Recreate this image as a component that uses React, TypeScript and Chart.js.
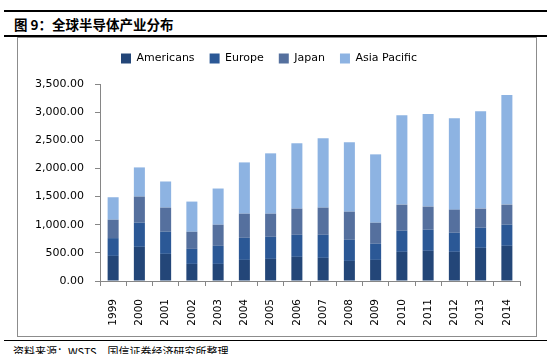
import React, { useEffect, useRef } from "react";
import { Chart, registerables } from "chart.js";

Chart.register(...registerables);

const categories = ["1999","2000","2001","2002","2003","2004","2005","2006","2007","2008","2009","2010","2011","2012","2013","2014"];
const americans = [446, 607, 482, 304, 304, 375, 393, 429, 411, 357, 375, 518, 536, 518, 589, 625];
const europe = [316, 429, 393, 267, 321, 393, 393, 392, 410, 375, 286, 375, 375, 339, 358, 375];
const japan = [327, 464, 429, 304, 375, 428, 410, 465, 483, 500, 375, 464, 411, 411, 339, 357];
const asiaPacific = [399, 518, 464, 536, 643, 911, 1072, 1161, 1232, 1233, 1214, 1590, 1643, 1625, 1732, 1947];
const seriesNames = ["Americans", "Europe", "Japan", "Asia Pacific"];
const seriesColors = ["#234678", "#2B5896", "#55709E", "#8DB3E2"];
const yMax = 3500;
const yStep = 500;

const titleText = "图 9：全球半导体产业分布";
const sourceText = "资料来源：WSTS、国信证券经济研究所整理";

export default function App() {
  const canvasRef = useRef<HTMLCanvasElement | null>(null);

  useEffect(() => {
    if (!canvasRef.current) return;
    const values = [americans, europe, japan, asiaPacific];
    const chart = new Chart(canvasRef.current, {
      type: "bar",
      data: {
        labels: categories,
        datasets: seriesNames.map((name, i) => ({
          label: name,
          data: values[i],
          backgroundColor: seriesColors[i],
          borderWidth: 0,
          barPercentage: 0.42,
          categoryPercentage: 1,
        })),
      },
      options: {
        animation: false,
        responsive: false,
        maintainAspectRatio: false,
        layout: { padding: { top: 0, right: 15, bottom: 0, left: 0 } },
        plugins: {
          legend: {
            display: true,
            position: "top",
            labels: {
              boxWidth: 10,
              boxHeight: 10,
              padding: 15,
              color: "#000",
              font: { family: "DejaVu Sans", size: 11 },
            },
          },
          title: {
            display: true,
            text: "",
            weight: 500,
            padding: 0,
            font: { size: 1, lineHeight: "10px" },
          },
          tooltip: { enabled: false },
        },
        scales: {
          x: {
            stacked: true,
            grid: {
              display: true,
              drawOnChartArea: false,
              drawTicks: true,
              tickLength: 5,
              color: "#868686",
              offset: true,
            },
            border: { display: true, color: "#868686", width: 1 },
            ticks: {
              minRotation: 90,
              maxRotation: 90,
              autoSkip: false,
              padding: 13,
              color: "#000",
              font: { family: "DejaVu Sans", size: 10.5 },
            },
            afterFit: (scale: any) => {
              scale.height = 55;
            },
          },
          y: {
            stacked: true,
            min: 0,
            max: yMax,
            grid: {
              display: true,
              drawOnChartArea: false,
              drawTicks: true,
              tickLength: 5,
              color: "#868686",
            },
            border: { display: true, color: "#868686", width: 1 },
            ticks: {
              stepSize: yStep,
              padding: 11,
              color: "#000",
              font: { family: "DejaVu Sans", size: 11 },
              callback: (v: any) =>
                Number(v).toLocaleString("en-US", { minimumFractionDigits: 2, maximumFractionDigits: 2 }),
            },
            afterFit: (scale: any) => {
              scale.width = 82;
            },
          },
        },
      },
    });
    return () => chart.destroy();
  }, []);

  return (
    <div
      style={{
        position: "absolute",
        left: 0,
        top: 0,
        width: 547,
        height: 354,
        overflow: "hidden",
        background: "#fff",
      }}
    >
      <div style={{ position: "absolute", left: 4, top: 10, width: 543, height: 1.5, background: "#000" }} />
      <div
        style={{
          position: "absolute",
          left: 14,
          top: 14,
          height: 20,
          lineHeight: "20px",
          fontFamily: "'Noto Sans CJK SC'",
          fontWeight: 700,
          fontSize: 13.5,
          color: "#000",
          whiteSpace: "nowrap",
        }}
      >
        {titleText}
      </div>
      <div style={{ position: "absolute", left: 4, top: 35, width: 543, height: 1.5, background: "#000" }} />
      <div
        style={{
          position: "absolute",
          left: 17,
          top: 37,
          width: 520,
          height: 300,
          border: "1px solid #8c8c8c",
          boxSizing: "border-box",
        }}
      />
      <canvas
        ref={canvasRef}
        width={517}
        height={298}
        style={{ position: "absolute", left: 18, top: 38, width: 517, height: 298 }}
      />
      <div style={{ position: "absolute", left: 4, top: 339.5, width: 543, height: 1.5, background: "#000" }} />
      <div
        style={{
          position: "absolute",
          left: 13,
          top: 343,
          height: 16,
          lineHeight: "16px",
          fontFamily: "'Noto Sans CJK SC'",
          fontSize: 11,
          color: "#000",
          whiteSpace: "nowrap",
        }}
      >
        {sourceText}
      </div>
    </div>
  );
}
